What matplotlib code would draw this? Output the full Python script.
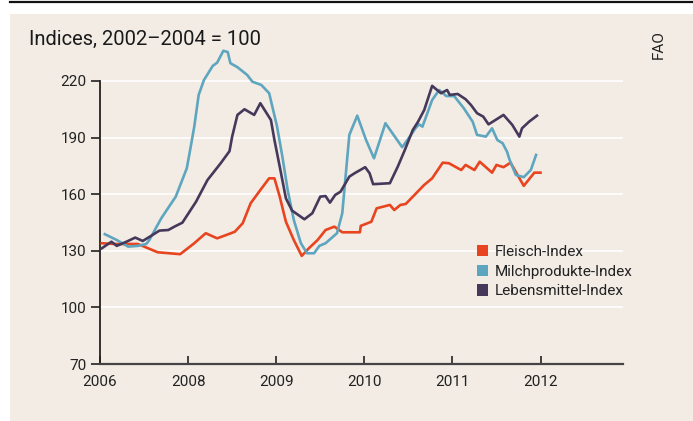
"""FAO price indices: meat, dairy and food, 2006-2012."""

import numpy as np
import matplotlib
matplotlib.use('Agg')
import matplotlib.pyplot as plt
from matplotlib.patches import Patch, Rectangle
from matplotlib.lines import Line2D

plt.rcParams['font.family'] = ['Roboto', 'DejaVu Sans']

# tick labels on the x axis (equally spaced, as in the original print)
tick_years = [2006, 2008, 2009, 2010, 2011, 2012]
y_ticks = [70, 100, 130, 160, 190, 220]

series_names = ['Fleisch-Index', 'Milchprodukte-Index', 'Lebensmittel-Index']
series_colors = ['#e8441f', '#5ea6bf', '#46385a']

# Fleisch-Index (meat)
meat_t = [2006.04, 2006.34, 2006.86, 2007.31, 2007.82, 2008.07, 2008.20, 2008.33,
          2008.47, 2008.53, 2008.62, 2008.71, 2008.82, 2008.92, 2008.98, 2009.04,
          2009.11, 2009.20, 2009.29, 2009.37, 2009.47, 2009.56, 2009.66, 2009.75,
          2009.95, 2009.96, 2010.08, 2010.14, 2010.29, 2010.34, 2010.41, 2010.47,
          2010.68, 2010.77, 2010.89, 2010.96, 2011.10, 2011.15, 2011.25, 2011.31,
          2011.45, 2011.50, 2011.58, 2011.66, 2011.81, 2011.93, 2012.01]
meat_v = [134.0, 133.6, 133.6, 129.2, 128.2, 134.0, 139.3, 136.6,
          139.0, 140.1, 144.6, 155.2, 162.2, 168.4, 168.4, 158.7,
          145.4, 135.7, 127.3, 131.3, 135.7, 141.0, 142.8, 139.8,
          139.8, 143.2, 145.4, 152.5, 154.3, 151.6, 154.3, 154.8,
          164.9, 168.4, 176.7, 176.4, 172.8, 175.5, 172.8, 177.2,
          171.4, 175.5, 174.3, 176.7, 164.4, 171.4, 171.4]

# Milchprodukte-Index (dairy)
dairy_t = [2006.11, 2006.38, 2006.64, 2006.86, 2007.05, 2007.12, 2007.39, 2007.72,
           2007.97, 2008.03, 2008.07, 2008.12, 2008.18, 2008.28, 2008.33, 2008.40,
           2008.45, 2008.48, 2008.56, 2008.67, 2008.73, 2008.83, 2008.92, 2009.01,
           2009.07, 2009.13, 2009.20, 2009.28, 2009.35, 2009.43, 2009.49, 2009.56,
           2009.69, 2009.75, 2009.83, 2009.92, 2010.02, 2010.11, 2010.24, 2010.43,
           2010.53, 2010.58, 2010.62, 2010.66, 2010.77, 2010.85, 2010.93, 2011.02,
           2011.13, 2011.23, 2011.28, 2011.38, 2011.45, 2011.51, 2011.57, 2011.62,
           2011.65, 2011.72, 2011.81, 2011.89, 2011.95]
dairy_v = [138.8, 135.7, 132.2, 132.6, 133.6, 135.7, 147.2, 158.7,
           173.7, 185.2, 195.8, 212.6, 220.5, 228.0, 229.7, 236.0,
           235.3, 229.4, 227.3, 223.2, 219.6, 217.9, 213.5, 195.8,
           179.9, 162.2, 146.3, 134.0, 128.7, 128.7, 132.6, 134.0,
           139.3, 149.9, 191.4, 201.6, 188.7, 179.0, 197.6, 184.9,
           191.4, 194.9, 197.0, 195.8, 209.9, 215.2, 212.0, 212.0,
           205.5, 198.4, 191.4, 190.5, 194.9, 188.7, 187.0, 182.5,
           178.1, 170.2, 169.0, 172.8, 180.8]

# Lebensmittel-Index (food)
food_t = [2006.04, 2006.26, 2006.38, 2006.60, 2006.80, 2006.97, 2007.16, 2007.35,
          2007.55, 2007.69, 2007.87, 2008.09, 2008.22, 2008.37, 2008.47, 2008.50,
          2008.56, 2008.64, 2008.75, 2008.82, 2008.94, 2008.98, 2009.04, 2009.11,
          2009.18, 2009.32, 2009.41, 2009.50, 2009.56, 2009.61, 2009.67, 2009.73,
          2009.83, 2009.89, 2010.01, 2010.06, 2010.10, 2010.29, 2010.38, 2010.46,
          2010.55, 2010.61, 2010.68, 2010.77, 2010.87, 2010.94, 2010.97, 2011.06,
          2011.15, 2011.21, 2011.28, 2011.35, 2011.41, 2011.58, 2011.68, 2011.76,
          2011.79, 2011.87, 2011.96]
food_v = [131.3, 134.8, 132.6, 134.8, 137.0, 135.2, 137.9, 140.7,
          141.0, 142.8, 144.9, 156.0, 167.5, 176.4, 182.8, 190.5,
          202.0, 205.0, 202.0, 208.2, 199.3, 188.7, 174.6, 157.8,
          151.3, 146.7, 149.9, 158.7, 159.0, 155.5, 159.6, 161.3,
          169.3, 171.1, 174.3, 171.1, 165.3, 165.8, 174.6, 183.4,
          194.0, 198.4, 204.6, 217.4, 213.5, 215.2, 212.6, 213.1,
          210.3, 207.3, 202.9, 201.1, 197.0, 202.0, 196.7, 190.5,
          194.9, 198.4, 201.6]

W, H = 693, 421
fig = plt.figure(figsize=(W / 100, H / 100), dpi=100)
fig.patch.set_facecolor('white')

# beige panel and thin black rule on top
fig.patches.append(Rectangle((10 / W, 0), 1 - 10 / W, 1 - 14 / H,
                             transform=fig.transFigure, facecolor='#f2ece5',
                             edgecolor='none', zorder=-5))
fig.lines.append(Line2D([10 / W, 1], [1 - 1.8 / H, 1 - 1.8 / H],
                        transform=fig.transFigure, color='#111111', linewidth=1.6))

ax = fig.add_axes([100 / W, 57 / H, 522.7 / W, 324 / H])
ax.set_facecolor('none')

positions = np.arange(len(tick_years))


def to_x(years):
    return np.interp(years, tick_years, positions)


for t, v, name, color in zip([meat_t, dairy_t, food_t], [meat_v, dairy_v, food_v],
                             series_names, series_colors):
    ax.plot(to_x(t), v, color=color, linewidth=1.9, label=name, zorder=3)

ax.set_xlim(0, 5.933)
ax.set_ylim(70, 241.7)

ax.set_yticks(y_ticks)
ax.set_xticks(positions)
ax.set_xticklabels([str(y) for y in tick_years])

for y in y_ticks[1:]:
    ax.axhline(y, color='white', linewidth=1.2, zorder=1)

for side in ['top', 'right']:
    ax.spines[side].set_visible(False)
ax.spines['left'].set_bounds(70, 220)
ax.spines['left'].set_color('#222222')
ax.spines['bottom'].set_color('#444444')
ax.spines['left'].set_linewidth(1.3)
ax.spines['bottom'].set_linewidth(1.6)

ax.tick_params(axis='y', direction='out', length=6.5, width=1.2, pad=3,
               labelsize=11, colors='#222222')
ax.tick_params(axis='x', direction='in', length=6, width=1.2, pad=8,
               labelsize=11, colors='#222222')

handles = [Patch(facecolor=c, edgecolor='none') for c in series_colors]
ax.legend(handles, series_names, loc='upper left', bbox_to_anchor=(0.721, 0.368),
          frameon=False, fontsize=11, handlelength=0.75, handleheight=0.75,
          handletextpad=0.45, labelspacing=0.38, borderpad=0, borderaxespad=0,
          labelcolor='#222222')

fig.text(29 / W, 1 - 45 / H, 'Indices, 2002–2004 = 100', fontsize=14.5,
         color='#1a1a1a', ha='left', va='baseline')
fig.text(659 / W, 1 - 45 / H, 'FAO', fontsize=11, rotation=90,
         color='#222222', ha='center', va='center')

fig.savefig('out.png', dpi=100, facecolor=fig.get_facecolor())
